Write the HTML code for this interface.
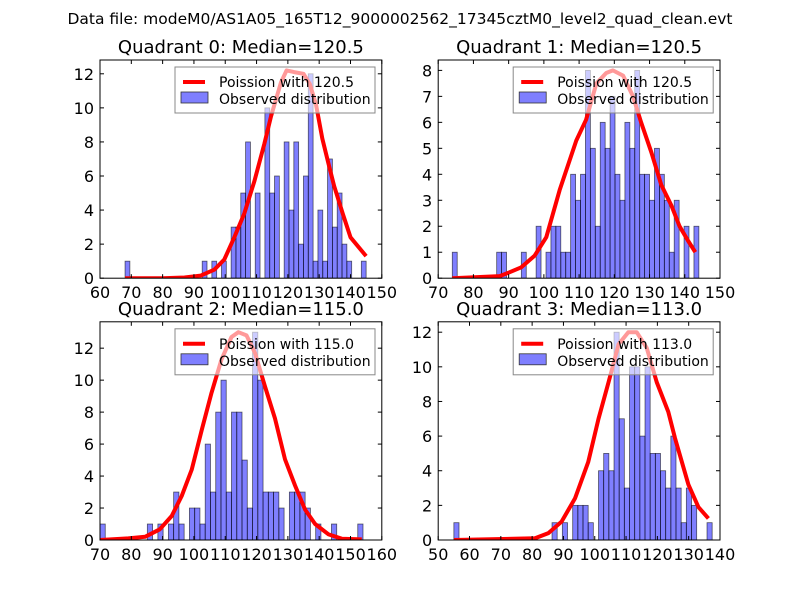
<!DOCTYPE html>
<html><head><meta charset="utf-8"><style>
body{margin:0;background:#fff}
svg{display:block;font-family:"DejaVu Sans","Liberation Sans",sans-serif}
</style></head><body>
<svg id="fig" width="800" height="600" viewBox="0 0 800 600">
<rect width="800" height="600" fill="#fff"/>
<text x="400" y="24" text-anchor="middle" font-size="15.5">Data file: modeM0/AS1A05_165T12_9000002562_17345cztM0_level2_quad_clean.evt</text>
</svg>
<script>
// Quadrant 0
const q0Range = [68, 145];
const q0Counts = [1,0,0,0,0,0,0,0,0,0, 0,0,0,0,0,0,1,0,1,0, 1,0,3,3,5,8,0,5,0,10, 5,6,0,8,4,8,2,6,12,1, 4,1,7,3,5,2,1,0,0,1];
const q0CurveX = [68,80,87,92.2,96.5,99.7,102.9,106.1,109.3,112.5,114.6,117.8,119.6,122,125,127,129,131,133,134.8,137.5,140,145];
const q0CurveY = [0,0,0.04,0.15,0.5,1.1,2.4,3.8,5.7,7.9,9.5,11.5,12.2,12.1,12,11.4,10.2,8.2,6.7,5.4,3.8,2.4,1.3];
const q0XTicks = [60,70,80,90,100,110,120,130,140,150];
const q0YTicks = [0,2,4,6,8,10,12];
// Quadrant 1
const q1Range = [74, 144];
const q1Counts = [1,0,0,0,0,0,0,0,0,1, 1,0,0,0,1,0,0,2,0,1, 2,2,1,1,4,3,4,8,5,2, 6,5,7,4,3,6,5,8,4,4, 3,5,4,3,1,3,0,2,0,2];
const q1CurveX = [74,87.5,90.3,93.6,97.4,100.7,104.5,109.2,112,114.9,117.7,119.6,122.5,125.3,127.6,130.5,133.3,136.2,138.5,140.9,143];
const q1CurveY = [0,0.08,0.23,0.42,0.87,1.58,3.4,5.3,6.1,7.5,7.9,8.0,7.8,7.0,6.0,4.85,3.6,2.8,2.0,1.45,1.0];
const q1XTicks = [70,80,90,100,110,120,130,140,150];
const q1YTicks = [0,1,2,3,4,5,6,7,8];
// Quadrant 2
const q2Range = [70, 154];
const q2Counts = [1,0,0,0,0,0,0,0,0,1, 0,1,0,1,3,1,0,2,2,1, 6,3,8,10,3,8,8,5,2,13, 10,3,3,3,2,0,3,3,3,2, 0,1,0,0,1,0,0,0,0,1];
const q2CurveX = [70,79,84.4,89.1,92.9,96.1,99.3,102.5,105.6,108.8,112,114.2,116.8,119.5,122.7,125.9,129.1,132.3,135.5,138.7,143,147.2,153.6];
const q2CurveY = [0,0.1,0.2,0.67,1.5,2.75,4.4,6.9,9.2,11.3,12.7,13,12.8,11.7,9.6,7.6,5.05,3.4,1.9,1.0,0.35,0.08,0.04];
const q2XTicks = [70,80,90,100,110,120,130,140,150,160];
const q2YTicks = [0,2,4,6,8,10,12];
// Quadrant 3
const q3Range = [55, 137.5];
const q3Counts = [1,0,0,0,0,0,0,0,0,0, 0,0,0,0,0,0,0,0,0,1, 0,1,0,2,2,2,1,0,4,5, 4,12,7,3,10,10,6,10,5,5, 4,3,6,3,1,3,2,0,0,1];
const q3CurveX = [55,80.9,85.2,89.4,93.7,97.9,101.2,104.4,107.6,110.7,113.4,116.6,119.8,123.5,125.6,129.9,133.1,136.3];
const q3CurveY = [0,0.1,0.4,1.06,2.4,4.5,7.0,9.1,11.3,12.0,12.0,11.1,9.1,7.4,5.9,3.2,1.9,1.25];
const q3XTicks = [50,60,70,80,90,100,110,120,130,140];
const q3YTicks = [0,2,4,6,8,10,12];

const quadTitles = ["Quadrant 0: Median=120.5","Quadrant 1: Median=120.5","Quadrant 2: Median=115.0","Quadrant 3: Median=113.0"];
const quadLegend = ["Poission with 120.5","Poission with 120.5","Poission with 115.0","Poission with 113.0"];

const NS = "http://www.w3.org/2000/svg";
const fig = document.getElementById('fig');
function mk(tag, attrs, parent){const e=document.createElementNS(NS,tag);for(const k in attrs)e.setAttribute(k,attrs[k]);parent.appendChild(e);return e;}

function drawQuad(qi, box, range, counts, cx, cy, xt, yt){
  const [L,T,W,H] = box;
  const g = mk('g',{},fig);
  
  
  const xmin = xt[0], xmax = xt[xt.length-1];
  const ymax = Math.max(Math.max(...counts), Math.max(...cy))*1.05;
  const X = v => L + (v-xmin)/(xmax-xmin)*W;
  const Y = v => T + H - v/ymax*H;
  const clipId = 'clip'+qi;
  const cp = mk('clipPath',{id:clipId},g); mk('rect',{x:L,y:T,width:W,height:H},cp);
  const plot = mk('g',{'clip-path':'url(#'+clipId+')'},g);
  const bw = (range[1]-range[0])/counts.length;
  counts.forEach((c,i)=>{
    if(c<=0) return;
    const x0 = range[0]+i*bw;
    const r = mk('rect',{x:X(x0),y:Y(c),width:X(x0+bw)-X(x0),height:Y(0)-Y(c),fill:'rgba(0,0,255,0.5)',stroke:'#000','stroke-opacity':0.6,'stroke-width':0.8},plot);
    
    
  });
  const pts = cx.map((v,i)=>X(v).toFixed(1)+','+Y(cy[i]).toFixed(1)).join(' ');
  const pl = mk('polyline',{points:pts,fill:'none',stroke:'#ff0000','stroke-width':4,'stroke-linejoin':'round'},plot);
  
  
  const fr = mk('rect',{x:L,y:T,width:W,height:H,fill:'none',stroke:'#000','stroke-width':1},g);
  
  
  xt.forEach(v=>{
    const x=X(v);
    mk('line',{x1:x,y1:T+H,x2:x,y2:T+H-4,stroke:'#000'},g);
    mk('line',{x1:x,y1:T,x2:x,y2:T+4,stroke:'#000'},g);
    const t=mk('text',{x:x,y:T+H+20,'text-anchor':'middle','font-size':16},g);
    t.textContent=v;
    
    
  });
  yt.forEach(v=>{
    const y=Y(v);
    mk('line',{x1:L,y1:y,x2:L+4,y2:y,stroke:'#000'},g);
    mk('line',{x1:L+W,y1:y,x2:L+W-4,y2:y,stroke:'#000'},g);
    const t=mk('text',{x:L-6,y:y+6,'text-anchor':'end','font-size':16},g);
    t.textContent=v;
    
    
  });
  const tt=mk('text',{x:L+W/2,y:T-7,'text-anchor':'middle','font-size':18},g);
  tt.textContent=quadTitles[qi];
  
  
  const lg=mk('g',{},g);
  
  
  const lx=L+75, ly=T+7;
  mk('rect',{x:lx,y:ly,width:200,height:46,fill:'rgba(255,255,255,0.6)',stroke:'#888','stroke-width':1},lg);
  mk('line',{x1:lx+8,y1:ly+15,x2:lx+30,y2:ly+15,stroke:'#ff0000','stroke-width':4},lg);
  const t1=mk('text',{x:lx+44,y:ly+20,'font-size':14},lg); t1.textContent=quadLegend[qi];
  
  
  mk('rect',{x:lx+6,y:ly+25,width:27,height:11,fill:'rgba(0,0,255,0.5)',stroke:'#333','stroke-width':0.8},lg);
  const t2=mk('text',{x:lx+44,y:ly+37,'font-size':14},lg); t2.textContent='Observed distribution';
  
  
}
drawQuad(0,[100,60,281.8,218.2],q0Range,q0Counts,q0CurveX,q0CurveY,q0XTicks,q0YTicks);
drawQuad(1,[438.2,60,281.8,218.2],q1Range,q1Counts,q1CurveX,q1CurveY,q1XTicks,q1YTicks);
drawQuad(2,[100,321.8,281.8,218.2],q2Range,q2Counts,q2CurveX,q2CurveY,q2XTicks,q2YTicks);
drawQuad(3,[438.2,321.8,281.8,218.2],q3Range,q3Counts,q3CurveX,q3CurveY,q3XTicks,q3YTicks);
</script>
</body></html>
